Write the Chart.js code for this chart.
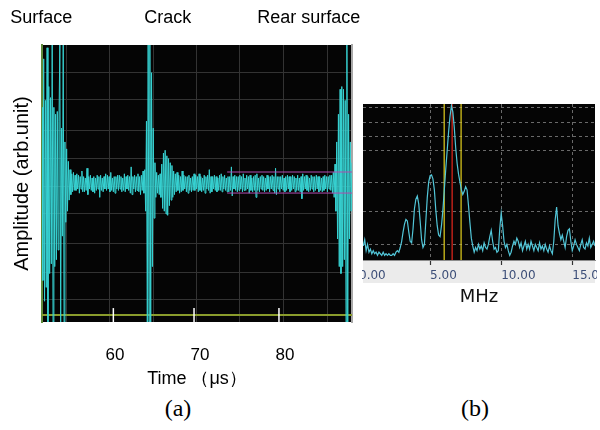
<!DOCTYPE html>
<html>
<head>
<meta charset="utf-8">
<script src="https://cdn.jsdelivr.net/npm/chart.js@4.4.1/dist/chart.umd.min.js"></script>
<style>
  body { margin: 0; background: #fff; width: 600px; height: 430px; position: relative; overflow: hidden; }
  canvas { position: absolute; }
  #scope { left: 0; top: 0; }
  #spec { left: 362px; top: 90px; }
  .cap { position: absolute; top: 395px; width: 60px; line-height: 30px; text-align: center; font: 24px "Liberation Serif", serif; color: #000; }
</style>
</head>
<body>
<canvas id="scope" width="380" height="395"></canvas>
<canvas id="spec" width="235" height="220"></canvas>
<div class="cap" style="left:148px">(a)</div>
<div class="cap" style="left:445px">(b)</div>
<script>
// (a) oscilloscope trace, one sample every 0.1 us starting at 51.4 us
const traceStart = 51.4
const traceStep = 0.1
const amplitude = [
  0.55, -0.7, 0.9, -0.85, 0.6, -0.75, 0.98, -1.0, 0.7, -0.65,
  0.62, -0.58, 1.0, -1.0, 0.55, -0.6, 0.5, -0.55, 0.52, -0.48,
  0.45, 1.0, -1.0, 0.4, -0.38, 1.0, -1.0, 0.3, -0.28, 0.25,
  -0.2, 0.16, -0.12, 0.1, -0.08, 0.07, -0.06, 0.08, -0.05, 0.06,
  -0.05, 0.07, -0.04, 0.06, -0.07, 0.05, -0.04, 0.09, -0.06, 0.05,
  -0.06, 0.04, -0.05, 0.11, -0.08, 0.05, -0.04, 0.06, -0.05, 0.04,
  -0.06, 0.05, -0.07, 0.04, -0.05, 0.06, -0.04, 0.05, -0.1, 0.06,
  -0.05, 0.04, -0.06, 0.05, -0.04, 0.07, -0.05, 0.06, -0.04, 0.05,
  -0.06, 0.08, -0.05, 0.04, -0.06, 0.05, -0.07, 0.05, -0.04, 0.06,
  -0.05, 0.06, -0.04, 0.05, -0.06, 0.04, -0.05, 0.07, -0.06, 0.05,
  -0.04, 0.06, -0.05, 0.05, -0.07, 0.12, -0.08, 0.05, -0.04, 0.06,
  -0.06, 0.05, -0.05, 0.07, -0.06, 0.05, -0.08, 0.06, -0.05, 0.09,
  -0.07, 0.1, -0.2, 0.45, -1.0, 1.0, -1.0, 1.0, -1.0, 0.8,
  -0.6, 0.4, -0.25, 0.15, -0.1, 0.08, -0.07, 0.06, -0.08, 0.07,
  -0.1, 0.14, -0.18, 0.22, -0.2, 0.24, -0.22, 0.2, -0.23, 0.18,
  -0.16, 0.15, -0.12, 0.13, -0.1, 0.09, -0.08, 0.07, -0.06, 0.08,
  -0.05, 0.06, -0.07, 0.05, -0.06, 0.09, -0.05, 0.06, -0.04, 0.05,
  -0.06, 0.05, -0.07, 0.06, -0.05, 0.04, -0.06, 0.05, -0.05, 0.07,
  -0.05, 0.06, -0.04, 0.05, -0.06, 0.07, -0.05, 0.05, -0.06, 0.04,
  -0.05, 0.06, -0.07, 0.05, -0.04, 0.06, -0.05, 0.1, -0.07, 0.05,
  -0.06, 0.05, -0.04, 0.06, -0.05, 0.05, -0.06, 0.04, -0.05, 0.06,
  -0.05, 0.07, -0.06, 0.05, -0.04, 0.06, -0.05, 0.04, -0.06, 0.05,
  -0.06, 0.05, -0.05, 0.12, -0.09, 0.05, -0.04, 0.06, -0.05, 0.05,
  -0.06, 0.05, -0.05, 0.06, -0.04, 0.05, -0.06, 0.07, -0.05, 0.04,
  -0.05, 0.06, -0.04, 0.05, -0.07, 0.06, -0.05, 0.04, -0.06, 0.05,
  -0.05, 0.06, -0.1, 0.07, -0.05, 0.04, -0.06, 0.05, -0.04, 0.06,
  -0.05, 0.05, -0.06, 0.04, -0.05, 0.06, -0.04, 0.05, -0.06, 0.05,
  -0.04, 0.06, -0.05, 0.05, -0.07, 0.11, -0.08, 0.05, -0.04, 0.05,
  -0.06, 0.05, -0.04, 0.06, -0.05, 0.04, -0.06, 0.05, -0.05, 0.06,
  -0.04, 0.05, -0.06, 0.05, -0.05, 0.06, -0.04, 0.05, -0.06, 0.04,
  -0.05, 0.06, -0.05, 0.04, -0.06, 0.05, -0.11, 0.07, -0.05, 0.05,
  -0.04, 0.06, -0.05, 0.05, -0.06, 0.04, -0.05, 0.06, -0.04, 0.05,
  -0.06, 0.05, -0.05, 0.06, -0.04, 0.05, -0.06, 0.05, -0.05, 0.04,
  -0.06, 0.05, -0.05, 0.06, -0.04, 0.05, -0.06, 0.05, -0.04, 0.06,
  -0.05, 0.06, -0.07, 0.08, -0.1, 0.14, -0.2, 0.3, -0.4, 0.5,
  -0.6, 0.68, -0.65, 0.7, -0.6, 0.68, -0.55, 0.6, -1.0, 1.0,
  -1.0, 0.5, -0.4, 0.3, -0.2, 0.15
]

// gate levels (purple lines)
const gateFrom = 73.2
const gateTo = 87.9
const gateLevels = [0.083, -0.069]

const timeMin = 51.4
const timeMax = 87.9
const timeTicks = [60, 70, 80]
const tickMarks = [59.8, 69.3, 79.3]
const echoNames = ['Surface', 'Crack', 'Rear surface']
const echoTimes = [51.3, 66.2, 82.8]
const scopeGridX = [54.3, 59.4, 64.5, 69.6, 74.7, 79.8, 85.0]
const scopeGridY = [0.805, 0.603, 0.386, 0.184, -0.025, -0.22, -0.43, -0.64, -0.84]
const baseLevel = -0.95

// (b) spectrum, one value every 0.1 MHz starting at 0.3 MHz
const specStart = 0.3
const specStep = 0.1
const spectrum = [
  0.09, 0.13, 0.06, 0.10, 0.05, 0.07, 0.04,
  0.06, 0.04, 0.05, 0.03, 0.05, 0.04, 0.03, 0.05, 0.03, 0.04,
  0.03, 0.04, 0.03, 0.03, 0.04, 0.03, 0.05, 0.06, 0.05, 0.08,
  0.12, 0.18, 0.23, 0.26, 0.25, 0.18, 0.12, 0.11, 0.20, 0.33,
  0.39, 0.41, 0.36, 0.25, 0.13, 0.08, 0.10, 0.25, 0.40, 0.50,
  0.54, 0.545, 0.52, 0.45, 0.32, 0.22, 0.16, 0.15, 0.22, 0.32,
  0.45, 0.58, 0.70, 0.82, 0.92, 0.99, 0.95, 0.85, 0.72, 0.62,
  0.55, 0.50, 0.45, 0.42, 0.44, 0.47, 0.45, 0.35, 0.24, 0.14,
  0.09, 0.05, 0.08, 0.06, 0.10, 0.07, 0.09, 0.06, 0.11, 0.08,
  0.07, 0.10, 0.15, 0.19, 0.12, 0.07, 0.08, 0.05, 0.06, 0.20,
  0.30, 0.22, 0.12, 0.08, 0.10, 0.06, 0.03, 0.05, 0.09, 0.12,
  0.10, 0.14, 0.12, 0.08, 0.11, 0.06, 0.09, 0.12, 0.07, 0.10,
  0.07, 0.12, 0.09, 0.06, 0.10, 0.08, 0.06, 0.11, 0.07, 0.09,
  0.06, 0.10, 0.07, 0.05, 0.09, 0.06, 0.04, 0.12, 0.26, 0.34,
  0.22, 0.17, 0.13, 0.16, 0.12, 0.08, 0.15, 0.19, 0.20, 0.12,
  0.06, 0.09, 0.13, 0.10, 0.08, 0.06, 0.10, 0.13, 0.08, 0.07,
  0.11, 0.09, 0.14, 0.08, 0.10, 0.12, 0.09
]
const freqMin = 0.28
const freqMax = 16.6
const freqTicks = [0, 5, 10, 15]
const cursorFreqs = [5.99, 7.18]
const peakFreq = 6.55
const specGridY = [0.1, 0.31, 0.5, 0.7, 0.79, 0.88, 0.98]

Chart.defaults.font.family = 'Liberation Sans'
Chart.defaults.color = '#000'

// black plot area, plus optional grey band under it
const blackArea = {
  id: 'blackArea',
  beforeDraw(chart, args, opts) {
    const {ctx, chartArea: a} = chart
    ctx.save()
    ctx.fillStyle = '#050505'
    ctx.fillRect(a.left, a.top, a.right - a.left, a.bottom - a.top)
    if (opts.band) {
      ctx.fillStyle = opts.band
      ctx.fillRect(a.left, a.bottom, a.right - a.left, opts.bandHeight)
    }
    ctx.restore()
  }
}

const fixedTicks = vals => scale => { scale.ticks = vals.map(v => ({value: v})) }
const fitH = h => s => { s.height = h; s.paddingLeft = 0; s.paddingRight = 0 }
const fitW = w => s => { s.width = w; s.paddingTop = 0; s.paddingBottom = 0 }

const flat = (x0, x1, y) => [{x: x0, y: y}, {x: x1, y: y}]

new Chart(document.getElementById('scope'), {
  type: 'line',
  plugins: [blackArea],
  data: {
    datasets: [
      {
        data: amplitude.map((v, i) => ({x: traceStart + i * traceStep, y: v})),
        borderColor: '#37d2d2', borderWidth: 1, pointRadius: 0, order: 1
      },
      ...gateLevels.map(g => ({
        data: flat(gateFrom, gateTo, g),
        borderColor: '#b04cb0', borderWidth: 1, pointRadius: 0, order: 0
      })),
      {
        data: flat(timeMin, timeMax, baseLevel),
        borderColor: '#8a9c2c', borderWidth: 2, pointRadius: 0, order: 2
      },
      {
        type: 'scatter',
        data: tickMarks.map(t => ({x: t, y: baseLevel})),
        pointStyle: 'line', rotation: 90, radius: 7,
        borderColor: '#ffffff', borderWidth: 1.5, order: 0
      }
    ]
  },
  options: {
    responsive: false,
    animation: false,
    devicePixelRatio: 1,
    layout: { padding: { left: 0, top: 0, right: 28, bottom: 0 } },
    plugins: { legend: { display: false }, tooltip: { enabled: false } },
    scales: {
      x: {
        type: 'linear', position: 'bottom', min: timeMin, max: timeMax,
        afterBuildTicks: fixedTicks(timeTicks),
        afterFit: fitH(73),
        grid: { display: false },
        border: { display: false },
        ticks: { font: { size: 17 }, padding: 15, maxRotation: 0, autoSkip: false },
        title: { display: true, text: 'Time （μs）', font: { size: 18 }, padding: { top: 0, bottom: 5 } }
      },
      xt: {
        type: 'linear', position: 'top', min: timeMin, max: timeMax,
        afterBuildTicks: fixedTicks(echoTimes),
        afterFit: fitH(45),
        grid: { display: false },
        border: { display: false },
        ticks: { font: { size: 18 }, padding: 8, maxRotation: 0, autoSkip: false,
                 callback: (v, i) => echoNames[i] }
      },
      xg: {
        type: 'linear', position: 'top', min: timeMin, max: timeMax,
        afterBuildTicks: fixedTicks(scopeGridX),
        afterFit: fitH(0),
        grid: { color: '#333333', drawTicks: false },
        border: { display: false },
        ticks: { display: false }
      },
      y: {
        type: 'linear', position: 'left', min: -1, max: 1,
        afterFit: fitW(42),
        grid: { display: false },
        border: { color: '#5e8a3a', width: 2 },
        ticks: { display: false },
        title: { display: true, text: 'Amplitude (arb.unit)', font: { size: 20 }, padding: { top: 10, bottom: 0 } }
      },
      yg: {
        type: 'linear', position: 'right', min: -1, max: 1,
        afterBuildTicks: fixedTicks(scopeGridY),
        afterFit: fitW(0),
        grid: { color: '#333333', drawTicks: false },
        border: { color: '#a8a8a8', width: 2 },
        ticks: { display: false }
      }
    }
  }
})

new Chart(document.getElementById('spec'), {
  type: 'line',
  plugins: [blackArea],
  data: {
    datasets: [
      {
        data: spectrum.map((v, i) => ({x: specStart + i * specStep, y: v})),
        borderColor: '#52c6d8', borderWidth: 1.2, pointRadius: 0, order: 0
      },
      ...cursorFreqs.map(f => ({
        data: [{x: f, y: 0}, {x: f, y: 1}],
        borderColor: '#e6d21e', borderWidth: 1.2, pointRadius: 0, order: 1
      })),
      {
        data: [{x: peakFreq, y: 0}, {x: peakFreq, y: 1}],
        borderColor: '#e8281e', borderWidth: 1.2, pointRadius: 0, order: 1
      }
    ]
  },
  options: {
    responsive: false,
    animation: false,
    devicePixelRatio: 1,
    layout: { padding: { left: 1, top: 14, right: 2, bottom: 0 } },
    plugins: {
      legend: { display: false }, tooltip: { enabled: false },
      blackArea: { band: '#ebebeb', bandHeight: 23 }
    },
    scales: {
      x: {
        type: 'linear', position: 'bottom', min: freqMin, max: freqMax,
        afterBuildTicks: fixedTicks(freqTicks),
        afterFit: fitH(50),
        grid: { drawOnChartArea: false, tickLength: 5, tickColor: '#333333', tickWidth: 1.2 },
        border: { color: '#8c8c8c', width: 1 },
        ticks: { font: { family: 'DejaVu Sans', size: 12 }, color: '#3c4e78', align: 'start',
                 padding: 4, maxRotation: 0, autoSkip: false,
                 callback: v => v.toFixed(2) },
        title: { display: true, text: 'MHz', color: '#111', font: { family: 'DejaVu Sans', size: 18 },
                 padding: { top: 0, bottom: 2 } }
      },
      xg: {
        type: 'linear', position: 'bottom', min: freqMin, max: freqMax,
        afterBuildTicks: fixedTicks(freqTicks),
        afterFit: fitH(0),
        grid: { color: '#6a6a6a', drawTicks: false },
        border: { display: false, dash: [3, 3] },
        ticks: { display: false }
      },
      y: { type: 'linear', display: false, min: 0, max: 1 },
      yg: {
        type: 'linear', position: 'left', min: 0, max: 1,
        afterBuildTicks: fixedTicks(specGridY),
        afterFit: fitW(0),
        grid: { color: '#6a6a6a', drawTicks: false },
        border: { display: false, dash: [3, 3] },
        ticks: { display: false }
      }
    }
  }
})
</script>
</body>
</html>
